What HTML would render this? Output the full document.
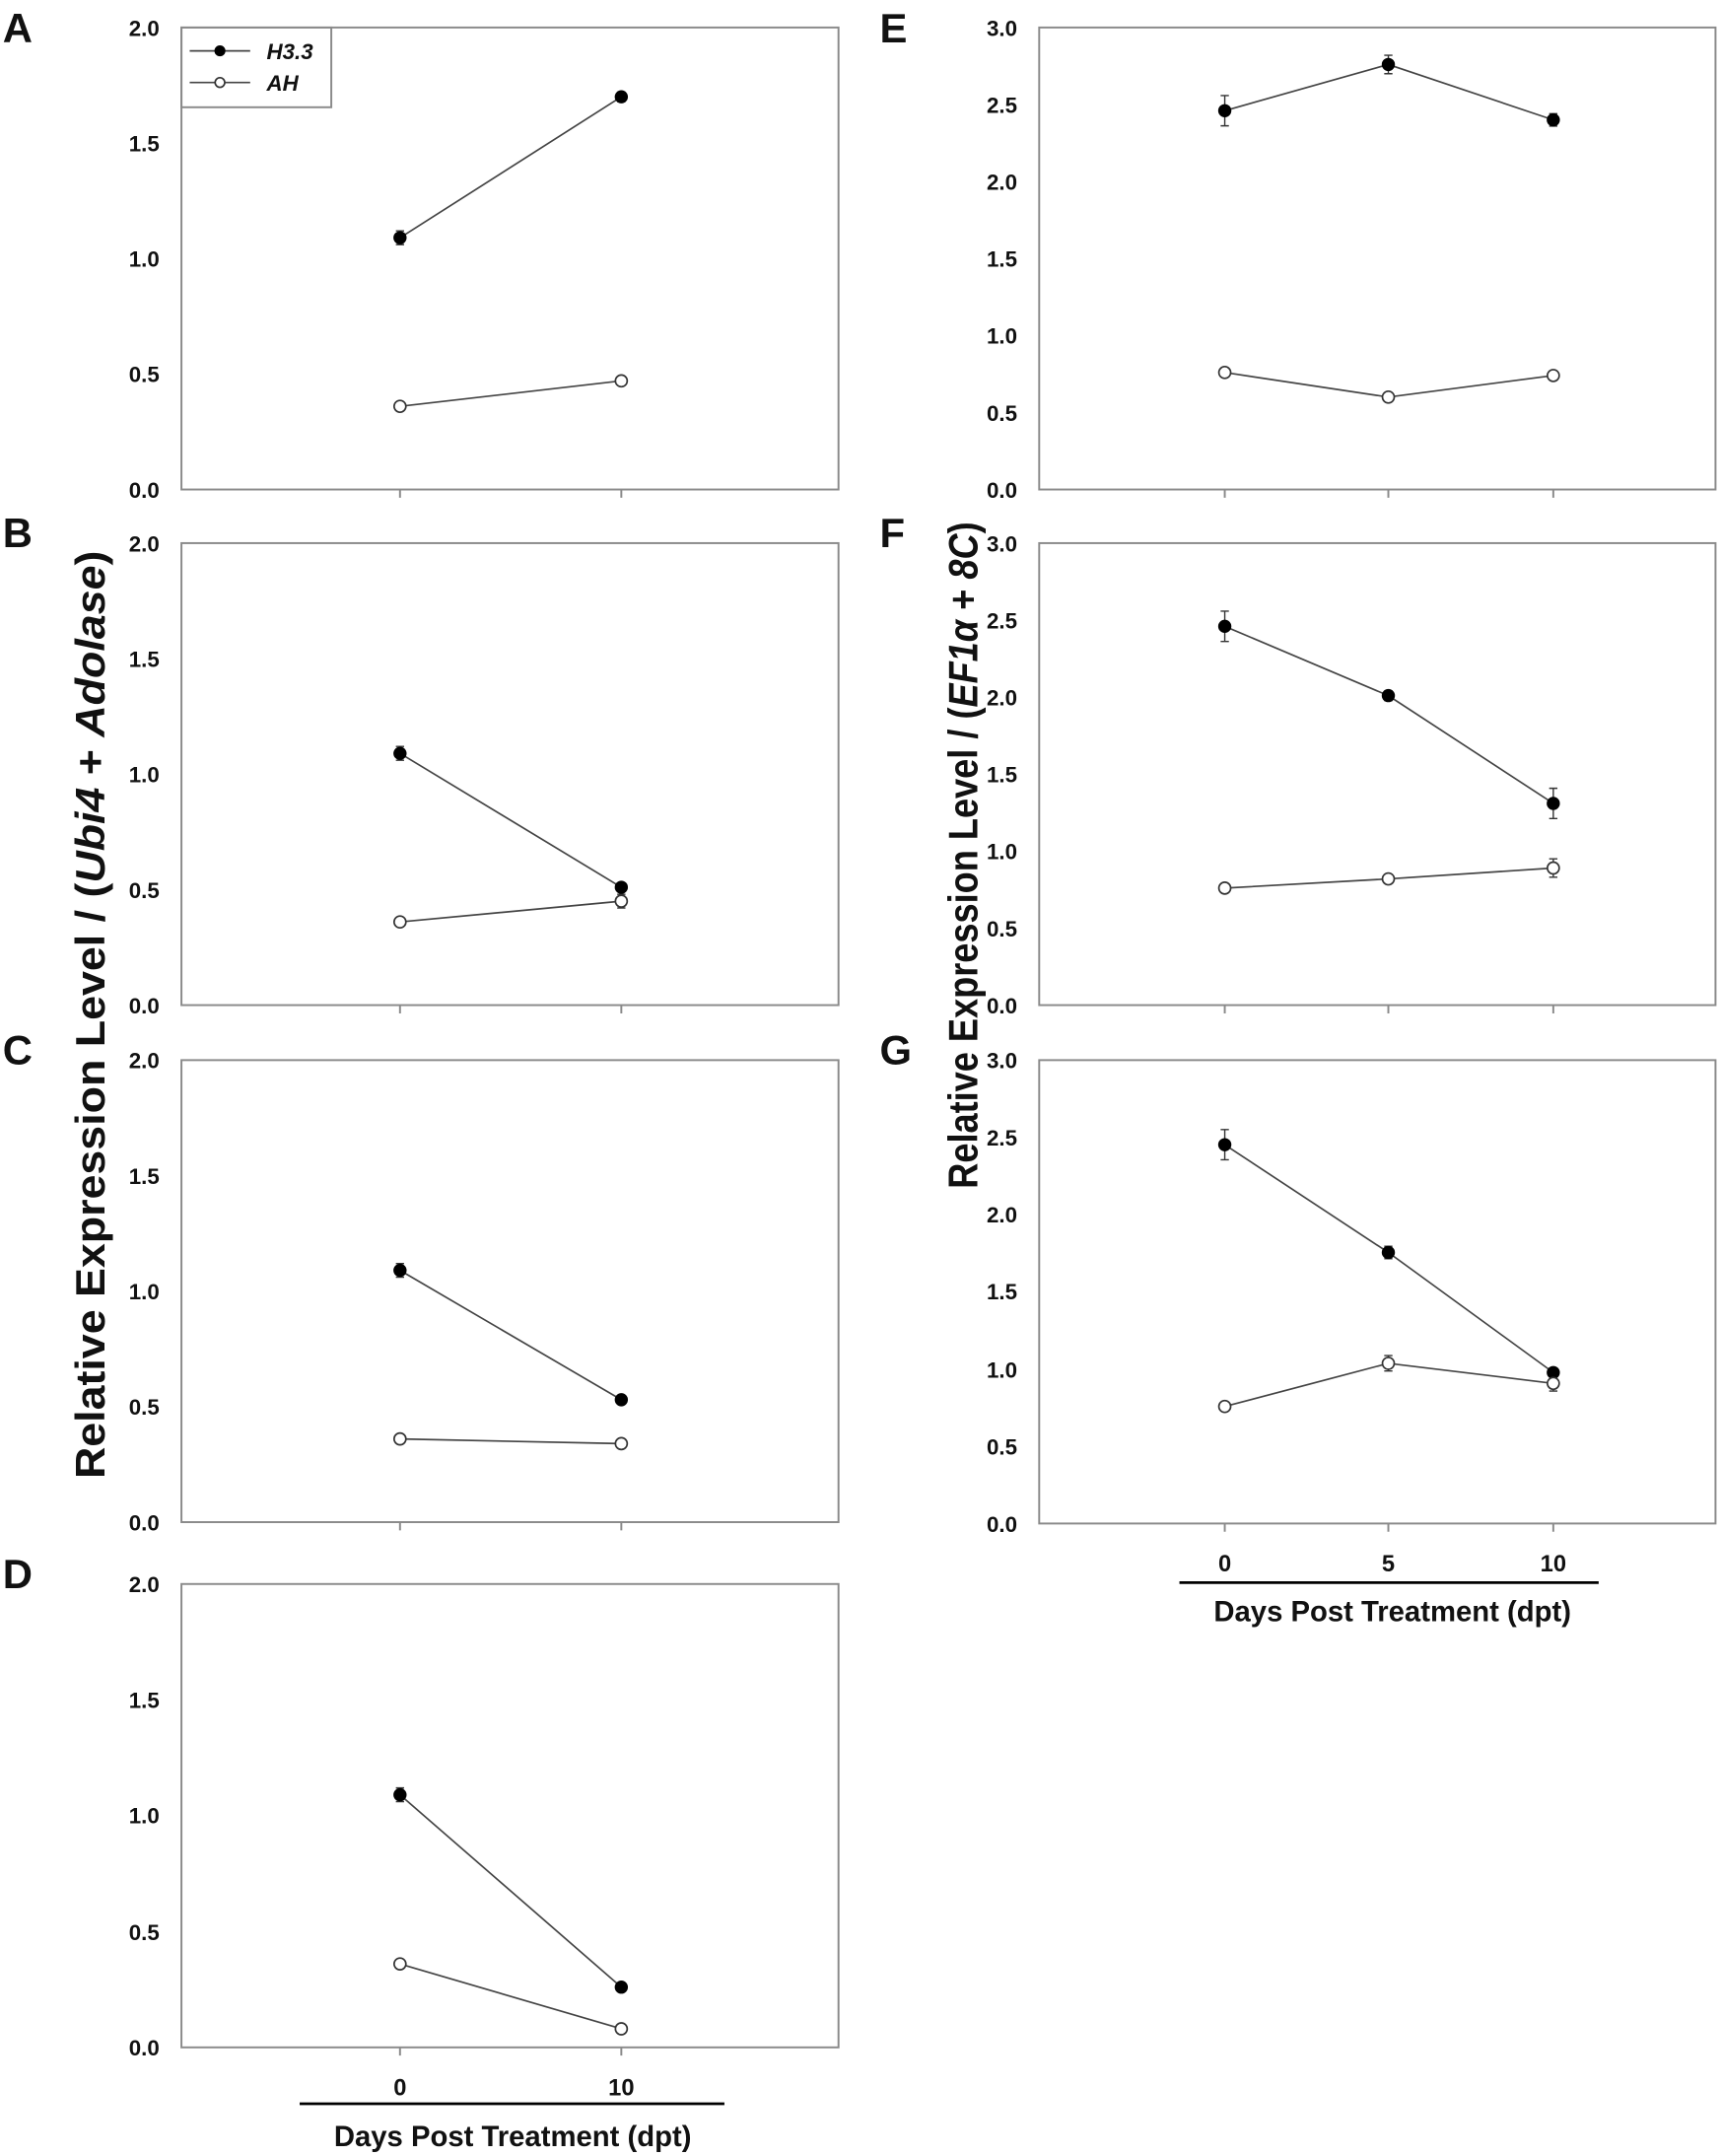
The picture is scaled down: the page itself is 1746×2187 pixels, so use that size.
<!DOCTYPE html>
<html><head><meta charset="utf-8"><style>
html,body{margin:0;padding:0;background:#fff}
svg{display:block}
text{font-family:"Liberation Sans",Arial,sans-serif;font-weight:bold;fill:#111}
.t{font-size:16px;text-anchor:end}
.x{font-size:17px;text-anchor:middle}
.L{font-size:30px}
.ax{fill:none;stroke:#8a8a8a;stroke-width:1.4}
.ln{fill:none;stroke:#444;stroke-width:1.2}
.f{fill:#000;stroke:#000;stroke-width:1}
.o{fill:#fff;stroke:#333;stroke-width:1.2}
.e{stroke:#333;stroke-width:1;fill:none}
</style></head><body>
<svg width="1746" height="2187" viewBox="0 0 1252 1568" preserveAspectRatio="none">
<text class="L" x="2" y="31">A</text>
<text class="L" x="2" y="398">B</text>
<text class="L" x="2" y="774">C</text>
<text class="L" x="2" y="1155">D</text>
<text class="L" x="640" y="31">E</text>
<text class="L" x="640" y="398">F</text>
<text class="L" x="640" y="774">G</text>

<text transform="translate(76,738) rotate(-90)" style="font-size:30px;text-anchor:middle" textLength="675" lengthAdjust="spacingAndGlyphs">Relative Expression Level / (<tspan font-style="italic">Ubi4</tspan> + <tspan font-style="italic">Adolase</tspan>)</text>
<text transform="translate(711,622) rotate(-90)" style="font-size:30px;text-anchor:middle" textLength="485" lengthAdjust="spacingAndGlyphs">Relative Expression Level / (<tspan font-style="italic">EF1α</tspan>  + <tspan font-style="italic">8C</tspan>)</text>

<!-- Panel A -->
<rect class="ax" x="132" y="20" width="478" height="336"/>
<g class="t"><text x="116" y="26">2.0</text><text x="116" y="110">1.5</text><text x="116" y="194">1.0</text><text x="116" y="278">0.5</text><text x="116" y="362">0.0</text></g>
<path class="ax" d="M291 356v6M452 356v6"/>
<rect x="132" y="20" width="109" height="58" class="ax"/>
<path class="ln" d="M138 37h44M138 60h44"/>
<circle class="f" cx="160" cy="37" r="3.5"/><circle class="o" cx="160" cy="60" r="3.5"/>
<text x="194" y="43" style="font-size:16px;font-style:italic">H3.3</text>
<text x="194" y="66" style="font-size:16px;font-style:italic">AH</text>
<path class="ln" d="M291 172.9L452 70.4M291 295.5L452 277"/>
<path class="e" d="M291 167.9v10M288 167.9h6M288 177.9h6M452 67v7M449 67h6M449 74h6"/>
<circle class="f" cx="291" cy="172.9" r="4.3"/><circle class="f" cx="452" cy="70.4" r="4.3"/>
<circle class="o" cx="291" cy="295.5" r="4.3"/><circle class="o" cx="452" cy="277" r="4.3"/>

<!-- Panel B -->
<rect class="ax" x="132" y="395" width="478" height="336"/>
<g class="t"><text x="116" y="401">2.0</text><text x="116" y="485">1.5</text><text x="116" y="569">1.0</text><text x="116" y="653">0.5</text><text x="116" y="737">0.0</text></g>
<path class="ax" d="M291 731v6M452 731v6"/>
<path class="ln" d="M291 547.9L452 645.3M291 670.5L452 655.4"/>
<path class="e" d="M291 542.9v10M288 542.9h6M288 552.9h6M452 650.4v10M449 650.4h6M449 660.4h6"/>
<circle class="f" cx="291" cy="547.9" r="4.3"/><circle class="f" cx="452" cy="645.3" r="4.3"/>
<circle class="o" cx="291" cy="670.5" r="4.3"/><circle class="o" cx="452" cy="655.4" r="4.3"/>

<!-- Panel C -->
<rect class="ax" x="132" y="771" width="478" height="336"/>
<g class="t"><text x="116" y="777">2.0</text><text x="116" y="861">1.5</text><text x="116" y="945">1.0</text><text x="116" y="1029">0.5</text><text x="116" y="1113">0.0</text></g>
<path class="ax" d="M291 1107v6M452 1107v6"/>
<path class="ln" d="M291 923.9L452 1018M291 1046.5L452 1049.9"/>
<path class="e" d="M291 918.9v10M288 918.9h6M288 928.9h6"/>
<circle class="f" cx="291" cy="923.9" r="4.3"/><circle class="f" cx="452" cy="1018" r="4.3"/>
<circle class="o" cx="291" cy="1046.5" r="4.3"/><circle class="o" cx="452" cy="1049.9" r="4.3"/>

<!-- Panel D -->
<rect class="ax" x="132" y="1152" width="478" height="337"/>
<g class="t"><text x="116" y="1158">2.0</text><text x="116" y="1242">1.5</text><text x="116" y="1326">1.0</text><text x="116" y="1411">0.5</text><text x="116" y="1495">0.0</text></g>
<path class="ax" d="M291 1489v6M452 1489v6"/>
<path class="ln" d="M291 1305.3L452 1445.2M291 1428.3L452 1475.5"/>
<path class="e" d="M291 1300.3v10M288 1300.3h6M288 1310.3h6"/>
<circle class="f" cx="291" cy="1305.3" r="4.3"/><circle class="f" cx="452" cy="1445.2" r="4.3"/>
<circle class="o" cx="291" cy="1428.3" r="4.3"/><circle class="o" cx="452" cy="1475.5" r="4.3"/>
<g class="x"><text x="291" y="1524">0</text><text x="452" y="1524">10</text></g>
<path d="M218 1530H527" stroke="#000" stroke-width="2"/>
<text x="373" y="1561" style="font-size:21px;text-anchor:middle">Days Post Treatment (dpt)</text>

<!-- Panel E -->
<rect class="ax" x="756" y="20" width="492" height="336"/>
<g class="t"><text x="740" y="26">3.0</text><text x="740" y="82">2.5</text><text x="740" y="138">2.0</text><text x="740" y="194">1.5</text><text x="740" y="250">1.0</text><text x="740" y="306">0.5</text><text x="740" y="362">0.0</text></g>
<path class="ax" d="M891 356v6M1010 356v6M1130 356v6"/>
<path class="ln" d="M891 80.5L1010 46.9L1130 87.2M891 270.9L1010 288.8L1130 273.1"/>
<path class="e" d="M891 69.5v22M888 69.5h6M888 91.5h6M1010 40.2v13.4M1007 40.2h6M1007 53.6h6M1130 82.7v9M1127 82.7h6M1127 91.7h6"/>
<circle class="f" cx="891" cy="80.5" r="4.3"/><circle class="f" cx="1010" cy="46.9" r="4.3"/><circle class="f" cx="1130" cy="87.2" r="4.3"/>
<circle class="o" cx="891" cy="270.9" r="4.3"/><circle class="o" cx="1010" cy="288.8" r="4.3"/><circle class="o" cx="1130" cy="273.1" r="4.3"/>

<!-- Panel F -->
<rect class="ax" x="756" y="395" width="492" height="336"/>
<g class="t"><text x="740" y="401">3.0</text><text x="740" y="457">2.5</text><text x="740" y="513">2.0</text><text x="740" y="569">1.5</text><text x="740" y="625">1.0</text><text x="740" y="681">0.5</text><text x="740" y="737">0.0</text></g>
<path class="ax" d="M891 731v6M1010 731v6M1130 731v6"/>
<path class="ln" d="M891 455.5L1010 505.9L1130 584.3M891 645.9L1010 639.2L1130 631.3"/>
<path class="e" d="M891 444.5v22M888 444.5h6M888 466.5h6M1010 502.5v7M1007 502.5h6M1007 509.5h6M1130 573.3v22M1127 573.3h6M1127 595.3h6M1130 624.6v13.4M1127 624.6h6M1127 638h6"/>
<circle class="f" cx="891" cy="455.5" r="4.3"/><circle class="f" cx="1010" cy="505.9" r="4.3"/><circle class="f" cx="1130" cy="584.3" r="4.3"/>
<circle class="o" cx="891" cy="645.9" r="4.3"/><circle class="o" cx="1010" cy="639.2" r="4.3"/><circle class="o" cx="1130" cy="631.3" r="4.3"/>

<!-- Panel G -->
<rect class="ax" x="756" y="771" width="492" height="337"/>
<g class="t"><text x="740" y="777">3.0</text><text x="740" y="833">2.5</text><text x="740" y="889">2.0</text><text x="740" y="945">1.5</text><text x="740" y="1002">1.0</text><text x="740" y="1058">0.5</text><text x="740" y="1114">0.0</text></g>
<path class="ax" d="M891 1108v6M1010 1108v6M1130 1108v6"/>
<path class="ln" d="M891 832.5L1010 910.9L1130 998.2M891 1022.9L1010 991.5L1130 1006.1"/>
<path class="e" d="M891 821.5v22M888 821.5h6M888 843.5h6M1010 906.4v9M1007 906.4h6M1007 915.4h6M1010 985.9v11.2M1007 985.9h6M1007 997.1h6M1130 1000.5v11.2M1127 1000.5h6M1127 1011.7h6"/>
<circle class="f" cx="891" cy="832.5" r="4.3"/><circle class="f" cx="1010" cy="910.9" r="4.3"/><circle class="f" cx="1130" cy="998.2" r="4.3"/>
<circle class="o" cx="891" cy="1022.9" r="4.3"/><circle class="o" cx="1010" cy="991.5" r="4.3"/><circle class="o" cx="1130" cy="1006.1" r="4.3"/>
<g class="x"><text x="891" y="1143">0</text><text x="1010" y="1143">5</text><text x="1130" y="1143">10</text></g>
<path d="M858 1151H1163" stroke="#000" stroke-width="2"/>
<text x="1013" y="1179" style="font-size:21px;text-anchor:middle">Days Post Treatment (dpt)</text>
</svg>
</body></html>
